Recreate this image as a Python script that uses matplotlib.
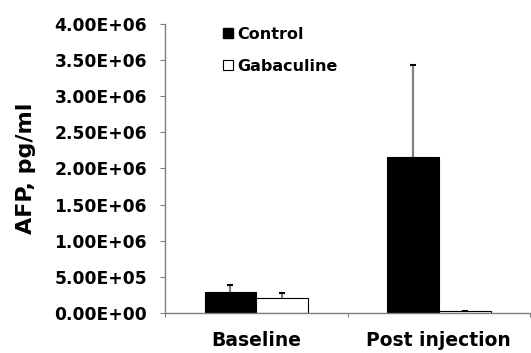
import matplotlib
matplotlib.use("Agg")
import matplotlib.pyplot as plt
from matplotlib.lines import Line2D
import numpy as np

categories = ["Baseline", "Post injection"]
control = [2.87e5, 2.155e6]
control_err = [1.0e5, 1.27e6]
gabaculine = [2.03e5, 2.8e4]
gabaculine_err = [7.8e4, 5e3]
yticks = [0, 5e5, 1e6, 1.5e6, 2e6, 2.5e6, 3e6, 3.5e6, 4e6]
ytick_labels = ["0.00E+00", "5.00E+05", "1.00E+06", "1.50E+06", "2.00E+06",
                "2.50E+06", "3.00E+06", "3.50E+06", "4.00E+06"]

plt.rcParams['font.family'] = ['DejaVu Sans']
fig = plt.figure(figsize=(5.31, 3.53), dpi=100)
ax = fig.add_axes([0.311, 0.1133, 0.687, 0.819])

x = np.arange(len(categories))
w = 0.284
axcol = "#808080"
ax.bar(x - w/2, control, w, color="black", edgecolor="black", linewidth=0.8, zorder=2)
ax.bar(x + w/2, gabaculine, w, color="white", edgecolor="black", linewidth=0.8, zorder=2)
ax.errorbar(x - w/2, control, yerr=[np.zeros(2), control_err], fmt="none",
            ecolor=axcol, elinewidth=1.6, capsize=0, zorder=1)
ax.errorbar(x + w/2, gabaculine, yerr=[np.zeros(2), gabaculine_err], fmt="none",
            ecolor=axcol, elinewidth=1.6, capsize=0, zorder=1)
for xs, v, e in [(x - w/2, control, control_err), (x + w/2, gabaculine, gabaculine_err)]:
    ax.plot(xs, np.array(v) + np.array(e), marker="_", ms=4, mew=1.5, color="black",
            linestyle="none", zorder=3)

ax.set_xlim(-0.5, 1.5)
ax.set_ylim(0, 4e6)
ax.set_yticks(yticks)
ax.set_yticklabels(ytick_labels, fontsize=12.3, fontweight="bold")
ax.set_xticks([-0.5, 0.5, 1.5])
ax.set_xticklabels([])
ax.set_xticks(x, minor=True)
ax.set_xticklabels(categories, minor=True, fontsize=13.5, fontweight="bold")
ax.tick_params(axis="x", which="minor", length=0, pad=13)
ax.tick_params(axis="x", which="major", length=3, color=axcol, direction="out")
ax.tick_params(axis="y", length=3.6, color=axcol, direction="out", pad=9.5)
for s in ["top", "right"]:
    ax.spines[s].set_visible(False)
for s in ["left", "bottom"]:
    ax.spines[s].set_color(axcol)
    ax.spines[s].set_linewidth(1.0)
ax.set_ylabel("AFP, pg/ml", fontsize=16, fontweight="bold", labelpad=13)

handles = [Line2D([], [], marker="s", ms=7, color="black", mfc="black", mec="black", linestyle="none"),
           Line2D([], [], marker="s", ms=7, color="black", mfc="white", mec="black", mew=0.8, linestyle="none")]
leg = fig.legend(handles, ["Control", "Gabaculine"], loc="upper left",
                 bbox_to_anchor=(0.405, 0.942), frameon=False,
                 prop={"weight": "bold", "size": 11.5}, handlelength=0.8,
                 handletextpad=0.2, labelspacing=1.05, borderaxespad=0)

fig.savefig("out.png", dpi=100)
